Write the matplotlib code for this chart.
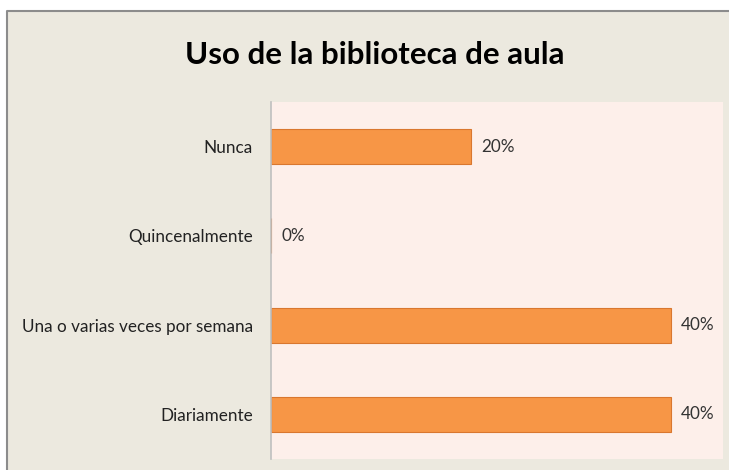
import matplotlib.pyplot as plt
from matplotlib.patches import Rectangle
from matplotlib.lines import Line2D

# datos
categorias = ['Nunca', 'Quincenalmente', 'Una o varias veces por semana', 'Diariamente']
valores = [0.20, 0.00, 0.40, 0.40]
etiquetas = ['20%', '0%', '40%', '40%']
titulo = 'Uso de la biblioteca de aula'

plt.rcParams['font.family'] = ['Lato', 'DejaVu Sans']

W, H = 729, 470
fig = plt.figure(figsize=(W / 100, H / 100), dpi=100)
fig.patch.set_facecolor('white')

# marco del grafico (sale por la derecha y abajo): fondo + borde arriba/izquierda
fx, fy = 7 / W, 1 - 11 / H
fig.add_artist(Rectangle((fx, 0), 1 - fx, fy, transform=fig.transFigure,
                         facecolor='#ECE9DF', edgecolor='none', zorder=-5))
fig.add_artist(Line2D([fx, fx, 1], [0, fy, fy], transform=fig.transFigure,
                      color='#8C8C8C', linewidth=1.5, zorder=-4))

fig.text(375 / W, 1 - 55 / H, titulo, ha='center', va='center',
         fontsize=22.5, fontweight='bold', color='black')

# area de trazado
x0, x1, y0, y1 = 271, 723, 102, 459
ax = fig.add_axes([x0 / W, 1 - y1 / H, (x1 - x0) / W, (y1 - y0) / H])
ax.set_zorder(5)
ax.set_facecolor('#FDEFEA')

pos = list(range(len(categorias)))
ax.barh(pos, valores, height=0.39, color='#F79646', edgecolor='#D9772F', linewidth=0.8)
for p, v, t in zip(pos, valores, etiquetas):
    ax.text(v + 0.01, p, t, va='center', ha='left', fontsize=12.3, color='#333333')

ax.set_xlim(0, 0.452)
ax.set_ylim(len(categorias) - 0.5, -0.5)
ax.set_yticks(pos)
ax.set_yticklabels(categorias, fontsize=12.3, color='#222222')
ax.set_xticks([])
ax.tick_params(axis='y', length=0, pad=13)
for s in ['top', 'right', 'bottom']:
    ax.spines[s].set_visible(False)
ax.spines['left'].set_color('#BFBFBF')
ax.spines['left'].set_linewidth(1.2)

fig.savefig('out.png', dpi=100)
